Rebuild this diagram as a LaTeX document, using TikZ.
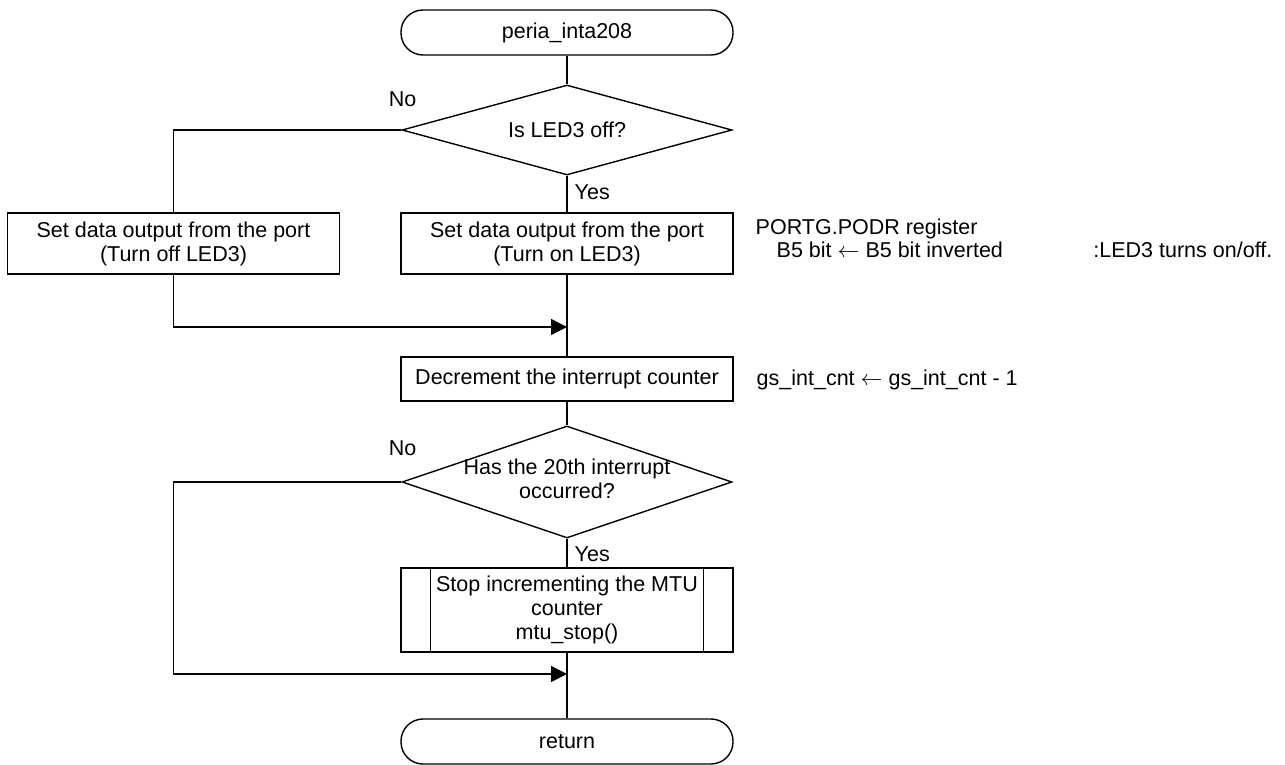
\documentclass[tikz,border=0pt]{standalone}
\usepackage{fontspec}
\setmainfont{Liberation Sans}
\usetikzlibrary{shapes.geometric,arrows.meta}
\begin{document}
\begin{tikzpicture}[x=0.5pt,y=-0.5pt,
  every node/.style={font=\fontsize{10.75}{12}\selectfont},
  line width=0.7pt,
  terminal/.style={draw,rectangle,rounded corners=11pt,minimum width=166pt,minimum height=22.5pt,inner sep=0pt},
  procbox/.style={draw,rectangle,minimum width=166pt,inner sep=0pt,align=center},
  decision/.style={draw,diamond,inner sep=0pt,minimum width=165pt},
  lbl/.style={inner sep=0pt,anchor=base west},
  arr/.style={-{Triangle[length=8pt,width=8pt]}}]
\useasboundingbox (0,0) rectangle (1285,765);
% nodes
\node[terminal] (start) at (567,32.5) {peria\_inta208};
\node[decision,minimum height=45pt,label={center:Is LED3 off?}] (d1) at (567,130) {};
\node[procbox,minimum height=30.5pt] (lbox) at (173.5,243.5) {Set data output from the port\\(Turn off LED3)};
\node[procbox,minimum height=30.5pt] (rbox) at (567,243.5) {Set data output from the port\\(Turn on LED3)};
\node[procbox,minimum height=22pt] (dec) at (567,379) {Decrement the interrupt counter};
\node[decision,minimum height=56pt,label={center:\begin{tabular}{@{}c@{}}Has the 20th interrupt\\occurred?\end{tabular}}] (d2) at (567,482) {};
\node[procbox,minimum height=42pt] (sub) at (567,610) {Stop incrementing the MTU\\counter\\mtu\_stop()};
\node[terminal] (ret) at (567,741.5) {return};
% subroutine inner lines
\draw ([xshift=15pt]sub.north west) -- ([xshift=15pt]sub.south west);
\draw ([xshift=-15pt]sub.north east) -- ([xshift=-15pt]sub.south east);
% labels
\node[lbl,anchor=base east] (no1) at (417,107) {No};
\node[lbl] (yes1) at (574,199) {Yes};
\node[lbl,anchor=base east] (no2) at (417,455) {No};
\node[lbl] (yes2) at (574,561) {Yes};
% comments
\node[lbl,align=left,font=\fontsize{10.75}{11.5}\selectfont] (c1) at (755,257) {PORTG.PODR register\\\hspace*{10.5pt}B5 bit $\leftarrow$ B5 bit inverted};
\node[lbl,anchor=base east] (c3) at (1273,257) {:LED3 turns on/off.};
\node[lbl] (c4) at (756,385) {gs\_int\_cnt $\leftarrow$ gs\_int\_cnt - 1};
% coordinates
\coordinate (j1) at (567,327);
\coordinate (j2) at (567,674);
\coordinate (k1) at (173.5,130);
\coordinate (k2) at (173.5,482);
% connectors
\draw (start) -- (d1);
\draw (d1.west) -- (k1) -- (lbox.north);
\draw (d1.south) -- (rbox.north);
\draw[arr] (lbox.south) |- (j1);
\draw (rbox.south) -- (dec.north);
\draw (dec.south) -- (d2.north);
\draw (d2.south) -- (sub.north);
\draw[arr] (d2.west) -- (k2) |- (j2);
\draw (sub.south) -- (ret.north);
\end{tikzpicture}
\end{document}
